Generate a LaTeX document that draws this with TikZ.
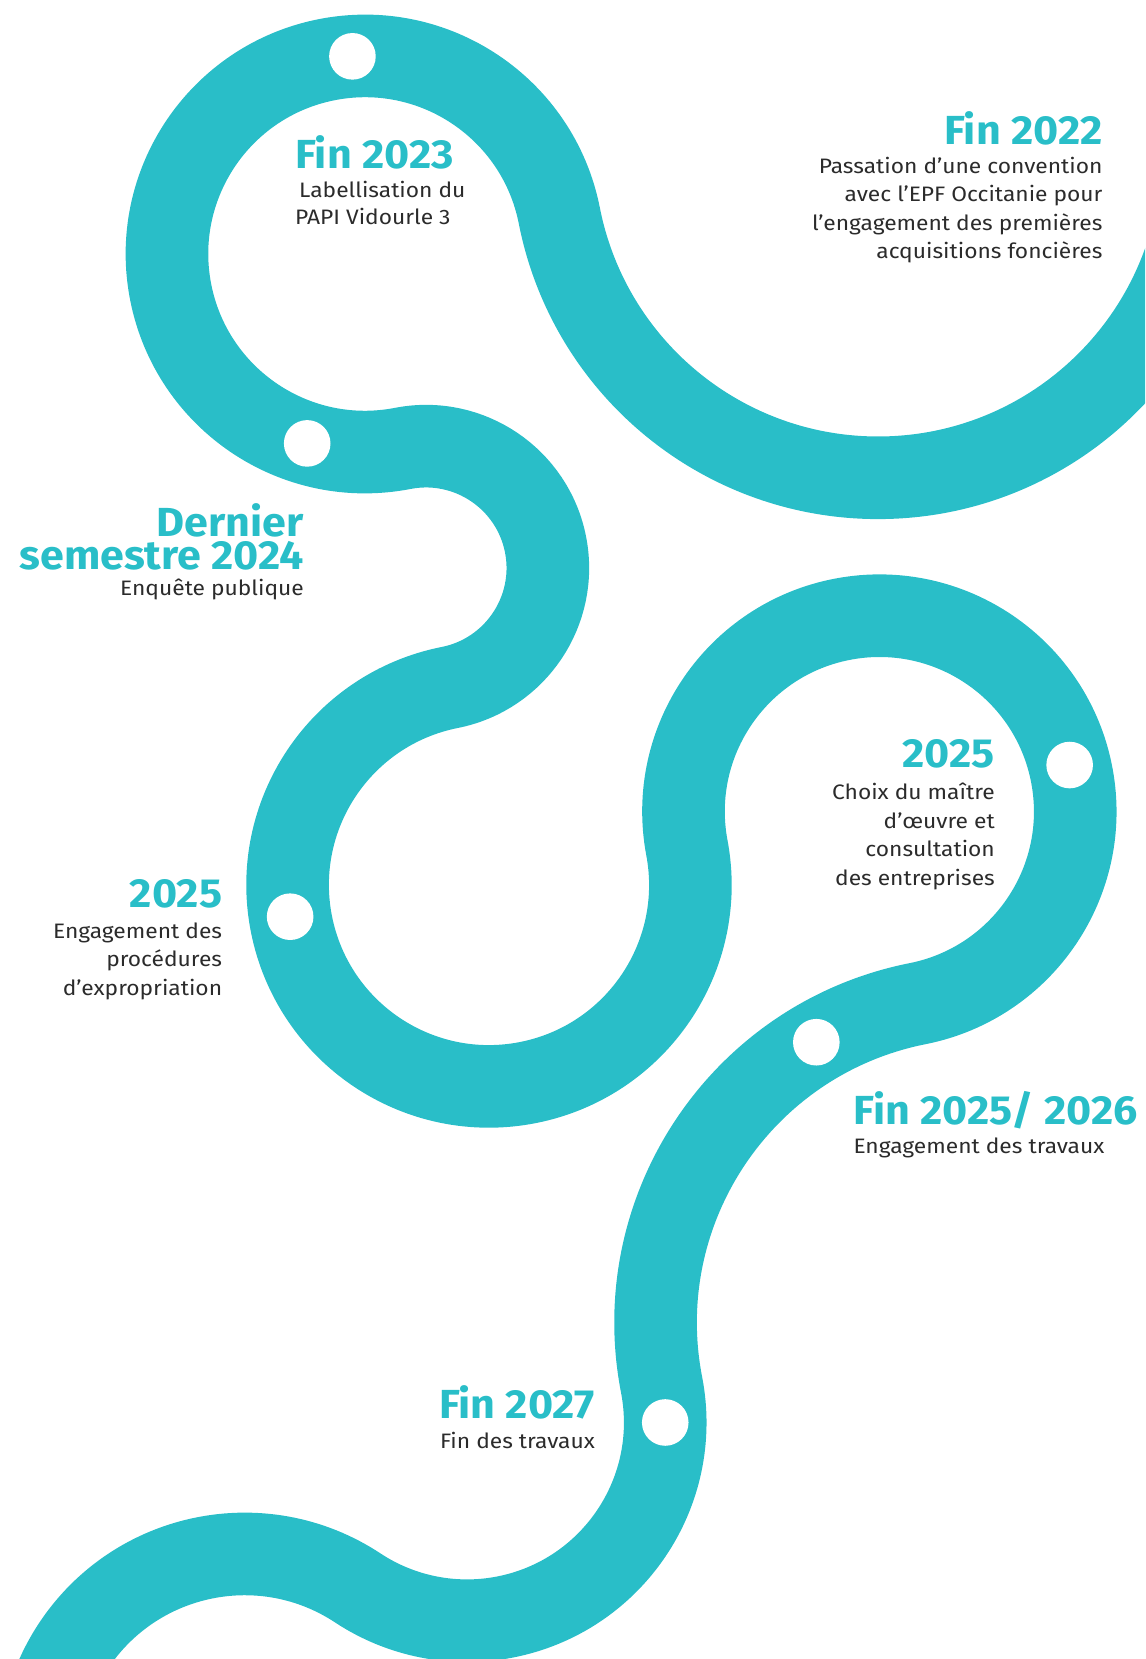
\documentclass[tikz,border=0pt]{standalone}
\usepackage{fontspec}
\setmainfont{Fira Sans}[FakeStretch=1.09]
\newfontfamily\hdfam{Fira Sans}[FakeStretch=1.06]
\usetikzlibrary{calc}
\definecolor{pathteal}{HTML}{29BEC8}
\definecolor{txtgray}{HTML}{2B2B2B}
\newcommand\hdfont{\hdfam\fontsize{40.6bp}{32.6bp}\selectfont\bfseries}
\newcommand\bdfont{\fontsize{20.9bp}{28.4bp}\selectfont}
\begin{document}
\begin{tikzpicture}[x=1bp,y=1bp,
  road/.style={draw=pathteal, line width=82.6bp, line cap=butt},
  dot/.style={circle, fill=white, draw=none, minimum size=46.6bp, inner sep=0pt},
  hd/.style={text=pathteal, font=\hdfont, inner sep=0pt},
  bd/.style={text=txtgray, font=\bdfont, inner sep=0pt}]
\useasboundingbox (0,0) rectangle (1145,1659);
\clip (0,0) rectangle (1145,1659);
% circle centres
\coordinate (c0) at (878,1506);
\coordinate (c1) at (365,1405);
\coordinate (c2) at (426,1091);
\coordinate (c3) at (489,774);
\coordinate (c4) at (879.4,847.4);
\coordinate (c5) at (981,336.2);
\coordinate (c6) at (467,236.5);
\coordinate (c7) at (244.7,-100.3);
\coordinate (start) at ([shift={(0:324.8)}]c0);
% the winding road
\draw[road] (start)
  arc[start angle=0, end angle=-168.86, radius=324.8]
  arc[start angle=11.14, end angle=280.99, radius=198.05]
  arc[start angle=100.99, end angle=-78.76, radius=121.82]
  arc[start angle=101.24, end angle=370.65, radius=201.38]
  arc[start angle=190.65, end angle=-78.76, radius=195.86]
  arc[start angle=101.24, end angle=190.98, radius=325.34]
  arc[start angle=10.98, end angle=-123.43, radius=198.24]
  arc[start angle=56.57, end angle=180, radius=205.3];
% white dots
\node[dot] (d1) at ([shift={(93.64:198.05)}]c1) {};
\node[dot] (d2) at ([shift={(253.03:198.05)}]c1) {};
\node[dot] (d3) at ([shift={(189.06:201.38)}]c3) {};
\node[dot] (d4) at ([shift={(13.75:195.86)}]c4) {};
\node[dot] (d5) at ([shift={(120.41:325.34)}]c5) {};
\node[dot] (d6) at ([shift={(0:198.24)}]c6) {};
% Fin 2022
\node[hd, anchor=base east] (h1) at (1102.7,1514.7) {Fin 2022};
\node[bd, anchor=base east] (b1) at (1102.7,1485.7)
  {\begin{tabular}[t]{@{}r@{}}Passation d’une convention\\avec l’EPF Occitanie pour\\l’engagement des premières\\acquisitions foncières\end{tabular}};
% Fin 2023
\node[hd, anchor=base west] (h2) at (295,1490.3) {Fin 2023};
\node[bd, anchor=base west, font=\fontsize{20.9bp}{26.6bp}\selectfont] (b2) at (295,1461.3)
  {\begin{tabular}[t]{@{}l@{}}\hspace{4bp}Labellisation du\\PAPI Vidourle 3\end{tabular}};
% Dernier semestre 2024
\node[hd, anchor=base east] (h3) at (304,1122.3)
  {\begin{tabular}[t]{@{}r@{}}Dernier\\\raisebox{0pt}[22bp][0pt]{semestre 2024}\end{tabular}};
\node[bd, anchor=base east] (b3) at (304,1063) {Enquête publique};
% 2025 left
\node[hd, anchor=base east] (h4) at (222.3,751.3) {2025};
\node[bd, anchor=base east] (b4) at (222.3,720.7)
  {\begin{tabular}[t]{@{}r@{}}Engagement des\\procédures\\d’expropriation\end{tabular}};
% 2025 right
\node[hd, anchor=base east] (h5) at (995,891.3) {2025};
\node[bd, anchor=base east] (b5) at (995,859)
  {\begin{tabular}[t]{@{}r@{}}Choix du maître\\d’œuvre et\\consultation\\des entreprises\end{tabular}};
% Fin 2025/ 2026
\node[hd, anchor=base west] (h6) at (853.3,534) {Fin 2025/ 2026};
\node[bd, anchor=base west] (b6) at (853.3,505.7) {Engagement des travaux};
% Fin 2027
\node[hd, anchor=base east] (h7) at (595,240.7) {Fin 2027};
\node[bd, anchor=base east] (b7) at (595,210) {Fin des travaux};
\end{tikzpicture}
\end{document}
